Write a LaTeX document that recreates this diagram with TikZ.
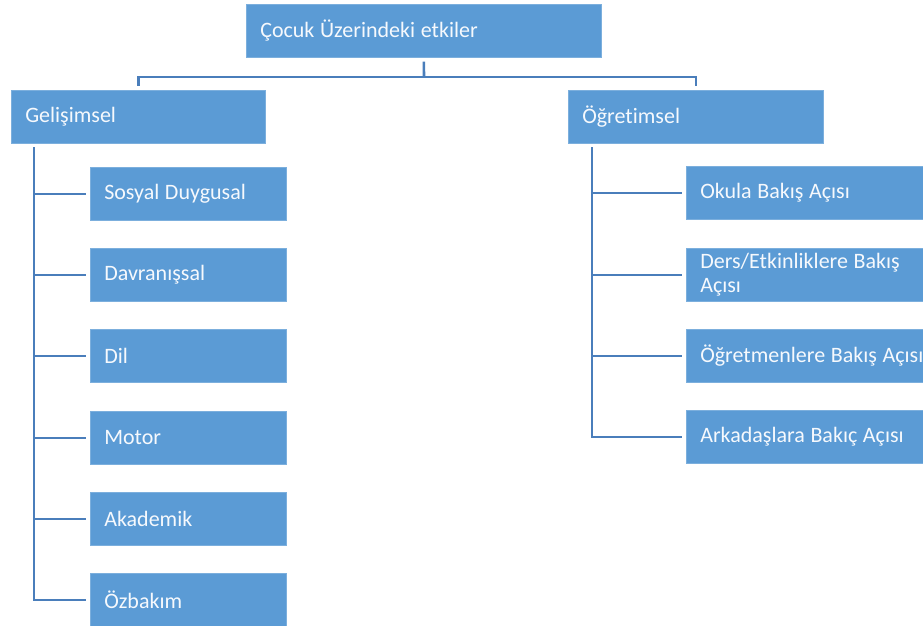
\documentclass[tikz,border=0pt]{standalone}
\usepackage{fontspec}
\setmainfont{Carlito}[RawFeature={-liga;-clig}]
\newlength{\du}
\setlength{\du}{1pt}
\definecolor{diafillcolor}{RGB}{91,155,213}
\definecolor{dialinecolor}{RGB}{74,126,187}
\definecolor{diatextcolor}{RGB}{246,249,253}
\tikzset{
  itembox/.style={rectangle, fill=diafillcolor, draw=diafillcolor!80!white, line width=0.6\du,
    anchor=north west, minimum height=53\du, inner xsep=14\du, inner ysep=0pt,
    align=left, text=diatextcolor, font=\fontsize{22}{24}\selectfont,
    execute at begin node={\setlength{\spaceskip}{5.6\du}}},
  link/.style={draw=dialinecolor, line width=2.6\du},
  branch/.style={link, shorten <=4\du, shorten >=4\du},
}
\begin{document}
\begin{tikzpicture}
\pgftransformyscale{-1.000000}
\clip (0\du,0\du) rectangle (923\du,625\du);
% top
\node[itembox, minimum width=355\du, text width=327\du] (top) at (246\du,4\du) {Çocuk Üzerindeki etkiler};
% second row
\node[itembox, minimum width=254\du, text width=226\du] (gel) at (11\du,90\du) {Gelişimsel};
\node[itembox, minimum width=255\du, text width=227\du] (ogr) at (568\du,90\du) {Öğretimsel};
% left column
\node[itembox, minimum width=196\du, text width=168\du] (sd) at (90\du,167\du) {Sosyal Duygusal};
\node[itembox, minimum width=196\du, text width=168\du] (dav) at (90\du,248\du) {Davranışsal};
\node[itembox, minimum width=196\du, text width=168\du] (dil) at (90\du,329\du) {Dil};
\node[itembox, minimum width=196\du, text width=168\du] (mot) at (90\du,411\du) {Motor};
\node[itembox, minimum width=196\du, text width=168\du] (aka) at (90\du,492\du) {Akademik};
\node[itembox, minimum width=196\du, text width=168\du] (ozb) at (90\du,573\du) {Özbakım};
% right column
\node[itembox, minimum width=270\du, text width=242\du] (okul) at (686\du,166\du) {Okula Bakış Açısı};
\node[itembox, minimum width=270\du, text width=242\du] (ders) at (686\du,248\du) {Ders/Etkinliklere Bakış\\Açısı};
\node[itembox, minimum width=270\du, text width=242\du] (ogrt) at (686\du,329\du) {Öğretmenlere Bakış Açısı};
\node[itembox, minimum width=270\du, text width=242\du] (ark) at (686\du,410\du) {Arkadaşlara Bakıç Açısı};
% connectors
\coordinate (tj) at (424\du,77\du);
\draw[link, shorten <=4\du] (top.south) -- (tj);
\draw[link, shorten >=4\du] (tj) -| (gel.north);
\draw[link, shorten >=4\du] (tj) -| (ogr.north);
\coordinate (gs) at (34\du,143\du);
\foreach \n in {sd,dav,dil,mot,aka,ozb}
  \draw[branch] (gs) |- (\n.west);
\coordinate (os) at (592\du,143\du);
\foreach \n in {okul,ders,ogrt,ark}
  \draw[branch] (os) |- (\n.west);
\end{tikzpicture}
\end{document}
